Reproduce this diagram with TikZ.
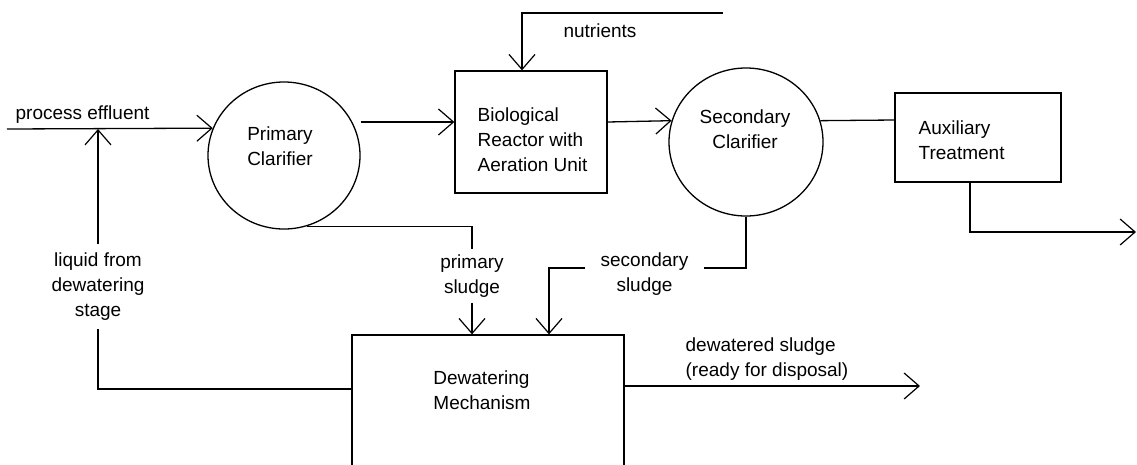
\documentclass[tikz,border=0pt]{standalone}
\usepackage{fontspec}
\setmainfont{Liberation Sans}
\usetikzlibrary{arrows.meta,shapes.geometric}
\begin{document}
\begin{tikzpicture}[x=1pt,y=-1pt,line width=1.3pt,
  flow/.style={-{Straight Barb[length=15pt,width=26pt,line width=1.2pt]}},
  unit/.style={draw,rectangle,inner sep=0pt},
  tank/.style={draw,ellipse,inner sep=0pt},
  lbl/.style={font=\fontsize{19}{25}\selectfont,inner sep=0pt,align=center},
  lbll/.style={font=\fontsize{19}{25}\selectfont,inner sep=0pt,align=left}]
\clip (0,0) rectangle (1137,464);
\fill[white] (0,0) rectangle (1137,464);
% units
\node[tank,minimum width=152pt,minimum height=147pt] (pc) at (284,155.5) {};
\node[tank,minimum width=154pt,minimum height=148pt] (sc) at (746,142) {};
\node[unit,minimum width=152pt,minimum height=122pt] (bio) at (531,132) {};
\node[unit,minimum width=166pt,minimum height=89pt] (aux) at (978,137.5) {};
\node[unit,minimum width=272pt,minimum height=165pt] (dw) at (488,417.5) {};
% unit texts
\node[lbll] (pct) at (280,146) {Primary\\Clarifier};
\node[lbl] (sct) at (745,129.5) {Secondary\\Clarifier};
\node[lbll,anchor=west] (biot) at (477,140) {Biological\\Reactor with\\Aeration Unit};
\node[lbll,anchor=west] (auxt) at (918,140.5) {Auxiliary\\Treatment};
\node[lbll] (dwt) at (482,390) {Dewatering\\Mechanism};
% stream labels
\node[lbll,anchor=west] (pet) at (15,115) {process effluent};
\node[lbl] (nutt) at (600,31) {nutrients};
\node[lbl,minimum width=70pt,minimum height=52pt] (ps) at (472,276) {primary\\sludge};
\node[lbl,minimum width=117pt,minimum height=48pt] (ss) at (644.5,274) {secondary\\sludge};
\node[lbl,minimum width=120pt,minimum height=83pt] (lq) at (98,286.5) {liquid from\\dewatering\\stage};
\node[lbll,anchor=west] (dst) at (685,359.5) {dewatered sludge\\(ready for disposal)};
% free ends
\coordinate (pe) at (7,129);
\coordinate (nut) at (723,13);
\coordinate (out) at (1136,232);
\coordinate (dwout) at (920,386);
% connectors
\draw[flow] (pe) -- (pc.159.5);
\draw[flow] ([yshift=33.5pt]pc.east) -- ([yshift=10pt]bio.west);
\draw[flow] ([yshift=10pt]bio.east) -- (sc.164.9);
\draw (sc.16.7) -- ([yshift=17.5pt]aux.west);
\draw[flow] ([xshift=-8pt]aux.south) |- (out);
\draw[flow] (nut) -| ([xshift=-9pt]bio.north);
\draw (pc.-72) -| (ps.north);
\draw[flow] (ps.south) -- (ps.south |- dw.north);
\draw (sc.south) |- ([yshift=6pt]ss.east);
\draw[flow] ([yshift=6pt]ss.west) -| ([xshift=61pt]dw.north);
\draw ([yshift=28.5pt]dw.west) -| (lq.south);
\draw[flow] (lq.north) -- (lq.north |- pe);
\draw[flow] ([yshift=31.5pt]dw.east) -- (dwout);
\end{tikzpicture}
\end{document}
